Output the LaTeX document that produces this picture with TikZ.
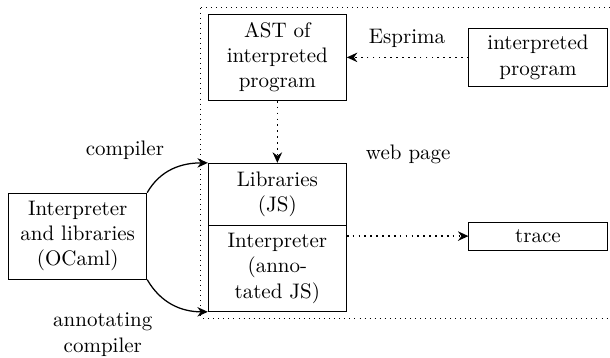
\documentclass[tikz,border=0pt]{standalone}
\usetikzlibrary{arrows.meta, positioning}
\tikzset{
    box/.style={draw, align=center, text width=2.1cm, inner sep=3pt},
    flow/.style={thick, dotted, -{Stealth[length=5pt, width=4.5pt]}},
    build/.style={semithick, -{Stealth[length=5pt, width=4.5pt]}},
}

\begin{document}
\begin{tikzpicture}
        \useasboundingbox (0, 0) rectangle (10.205, -5.973);
        \draw[dotted] (3.36, -0.13) -- (10.25, -0.13);
        \draw[dotted] (3.36, -0.13) -- (3.36, -5.32) -- (10.25, -5.32);

        \node[box, minimum height=41pt] (ast) at (4.64, -0.96)
            {AST of interpreted program};
        \node[box, minimum height=28pt] (prog) at (9.00, -0.96)
            {interpreted program};
        \node[box, anchor=north, minimum height=29.5pt] (libs) at (4.64, -2.725)
            {Libraries (JS)};
        \node[box, anchor=north, minimum height=41pt, yshift=0.4pt] (interp)
            at (libs.south) {Interpreter (annotated JS)};
        \node[box, minimum height=13.3pt] (trace) at (9.00, -3.95) {trace};
        \node[box, minimum height=41pt] (ocaml) at (1.30, -3.95)
            {Interpreter and libraries (OCaml)};

        \node (esprima) at (6.81, -0.65) {Esprima};
        \node (webpage) at (6.83, -2.59) {web page};
        \node (comp) at (2.09, -2.51) {compiler};
        \node[align=center] (anncomp) at (1.72, -5.60) {annotating\\compiler};

        \draw[flow] (prog) -- (ast);
        \draw[flow] (ast) -- (libs);
        \draw[flow] (interp.east |- trace) -- (trace);
        \draw[build] (ocaml.north east) to[out=60, in=180] (libs.north west);
        \draw[build] (ocaml.south east) to[out=-60, in=180] (interp.south west);
    \end{tikzpicture}
\end{document}
